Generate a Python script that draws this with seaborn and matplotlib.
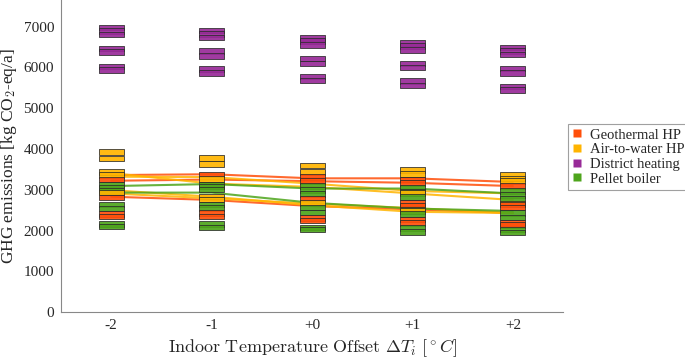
import numpy as np
import pandas as pd
import matplotlib
matplotlib.use("Agg")
import matplotlib.pyplot as plt
import seaborn as sns
from matplotlib.path import Path
from matplotlib.markers import MarkerStyle
from matplotlib.lines import Line2D

# x categories (indoor temperature offset)
offsets = ["-2", "-1", "+0", "+1", "+2"]
systems = ["Geothermal HP", "Air-to-water HP", "District heating", "Pellet boiler"]
colors = {
    "Geothermal HP": "#ff4f0a",
    "Air-to-water HP": "#ffb400",
    "District heating": "#982a98",
    "Pellet boiler": "#4ea51c",
}

# GHG emissions per scenario [kg CO2-eq/a], one list per offset
geothermal = [
    [3250, 2810, 2410, 2350],
    [3370, 2430, 2350],
    [3310, 3210, 2790, 2310, 2250],
    [3250, 3170, 2680, 2600, 2270, 2190],
    [3090, 2640, 2560, 2190, 2140],
]
air_to_water = [
    [3930, 3770, 3430, 3360, 2930],
    [3780, 3630, 3260, 2830, 2760],
    [3600, 3440, 2680],
    [3480, 3380, 2920, 2480],
    [3360, 3280, 3210, 2660],
]
district = [
    [6970, 6890, 6810, 6460, 6370, 6020, 5930],
    [6900, 6820, 6730, 6400, 6280, 5960, 5860],
    [6720, 6640, 6550, 6220, 6100, 5780, 5680],
    [6600, 6520, 6430, 6100, 5990, 5660, 5560],
    [6480, 6400, 6310, 5970, 5860, 5530, 5440],
]
pellet = [
    [3125, 3040, 2970, 2640, 2540, 2160, 2100],
    [3120, 3080, 3010, 2640, 2550, 2160, 2080],
    [3090, 2990, 2890, 2560, 2440, 2080, 2020],
    [3050, 2950, 2820, 2510, 2400, 2060, 1970],
    [2970, 2870, 2770, 2430, 2320, 2030, 1950],
]

# scenario trajectories across the offsets
geothermal_lines = [
    [3360, 3380, 3280, 3280, 3190],
    [3220, 3250, 3210, 3170, 3090],
    [2830, 2750, 2600, 2520, 2430],
]
air_to_water_lines = [
    [3410, 3150, 3070, 2910, 2750],
    [3320, 3310, 3150, 2970, 2910],
    [2990, 2830, 2620, 2460, 2430],
    [2910, 2790, 2660, 2550, 2430],
]
pellet_lines = [
    [2930, 2930, 2680, 2540, 2480],
    [3090, 3140, 3030, 3030, 2910],
]

point_data = {
    "Geothermal HP": geothermal,
    "Air-to-water HP": air_to_water,
    "District heating": district,
    "Pellet boiler": pellet,
}
line_data = {
    "Geothermal HP": geothermal_lines,
    "Air-to-water HP": air_to_water_lines,
    "Pellet boiler": pellet_lines,
}

rows = []
for name, per_offset in point_data.items():
    for i, vals in enumerate(per_offset):
        for v in vals:
            rows.append({"pos": i, "system": name, "value": v})
points = pd.DataFrame(rows).sort_values("value", ascending=False)

rows = []
for name, lines in line_data.items():
    for k, vals in enumerate(lines):
        for i, v in enumerate(vals):
            rows.append({"pos": i, "system": name, "value": v, "run": f"{name}_{k}"})
lines_df = pd.DataFrame(rows)

sns.set_style("white")
plt.rcParams["font.family"] = ["Liberation Serif", "DejaVu Serif"]
plt.rcParams["mathtext.fontset"] = "cm"

fig, ax = plt.subplots(figsize=(6.85, 3.58), dpi=100)
fig.subplots_adjust(left=0.089, right=0.822, bottom=0.128, top=1.0)

sns.lineplot(
    data=lines_df, x="pos", y="value", hue="system", units="run",
    estimator=None, palette=colors, linewidth=1.5, alpha=0.85,
    legend=False, ax=ax, zorder=2,
)

# wide flat rectangle marker
bar = Path([(-1, -0.22), (1, -0.22), (1, 0.22), (-1, 0.22), (-1, -0.22)],
           [Path.MOVETO, Path.LINETO, Path.LINETO, Path.LINETO, Path.CLOSEPOLY])
sns.scatterplot(
    data=points, x="pos", y="value", hue="system", palette=colors,
    marker=MarkerStyle(bar), s=324, edgecolor="#2a2a2a", linewidth=0.6,
    alpha=0.92, legend=False, ax=ax, zorder=3,
)

ax.set_xlim(-0.5, 4.5)
ax.set_ylim(0, 7650)
ax.set_xticks(range(len(offsets)))
ax.set_xticklabels(offsets)
ax.set_yticks(np.arange(0, 7001, 1000))
ax.tick_params(direction="in", length=4, color="#888888", labelsize=11, pad=5)
for side in ["top", "right"]:
    ax.spines[side].set_visible(False)
for side in ["left", "bottom"]:
    ax.spines[side].set_color("#888888")
    ax.spines[side].set_linewidth(0.8)

ax.set_xlabel(r"$\mathrm{Indoor\ Temperature\ Offset}\ \Delta T_i\ [^\circ C]$", fontsize=13)
ax.set_ylabel(r"GHG emissions [kg CO$_2$-eq/a]", fontsize=12.5, labelpad=3)

handles = [Line2D([], [], marker="s", linestyle="none", markersize=5.5,
                  markerfacecolor=colors[s], markeredgecolor="none") for s in systems]
leg = fig.legend(
    handles, systems, loc="upper left", bbox_to_anchor=(568 / 685, 1 - 124 / 358),
    bbox_transform=fig.transFigure, fontsize=10.5, frameon=True, fancybox=False,
    handlelength=0.7, handletextpad=0.5, borderpad=0.3, labelspacing=0.1,
    borderaxespad=0,
)
leg.get_frame().set_edgecolor("#888888")
leg.get_frame().set_linewidth(0.8)

fig.savefig("out.png", dpi=100)
